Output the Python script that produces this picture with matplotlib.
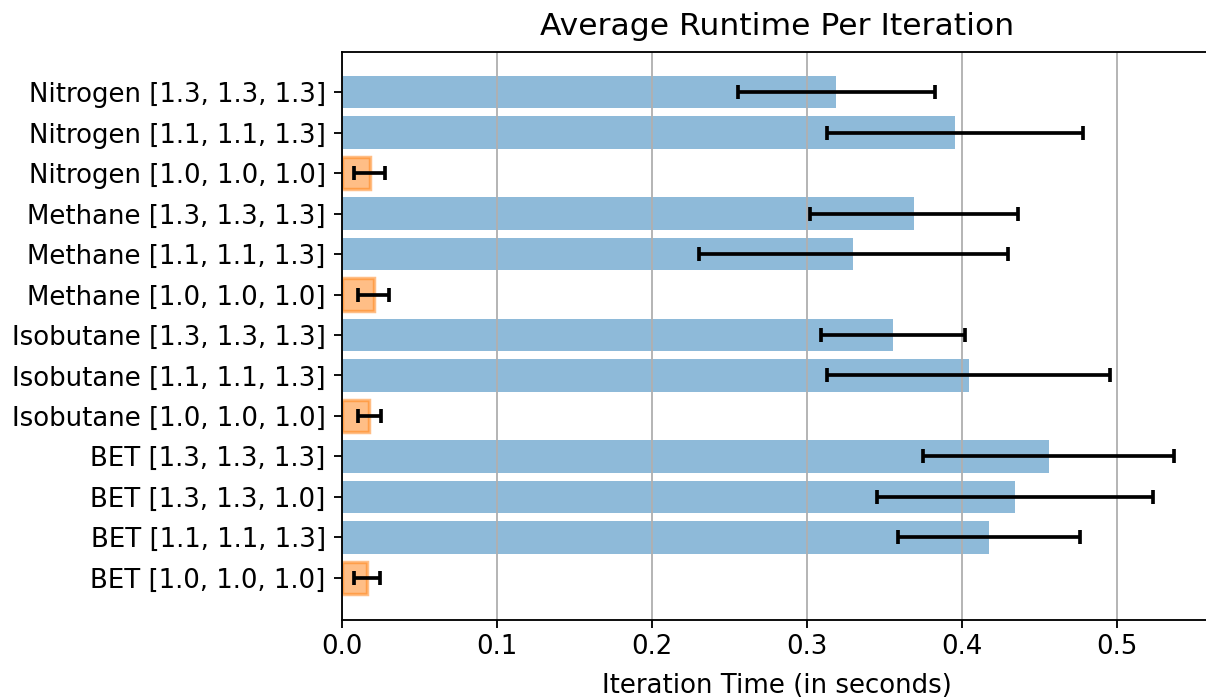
import numpy as np
import matplotlib; matplotlib.use('Agg')
import matplotlib.pyplot as plt

# bottom-to-top order, as drawn by barh
labels=['BET [1.0, 1.0, 1.0]','BET [1.1, 1.1, 1.3]','BET [1.3, 1.3, 1.0]','BET [1.3, 1.3, 1.3]',
        'Isobutane [1.0, 1.0, 1.0]','Isobutane [1.1, 1.1, 1.3]','Isobutane [1.3, 1.3, 1.3]',
        'Methane [1.0, 1.0, 1.0]','Methane [1.1, 1.1, 1.3]','Methane [1.3, 1.3, 1.3]',
        'Nitrogen [1.0, 1.0, 1.0]','Nitrogen [1.1, 1.1, 1.3]','Nitrogen [1.3, 1.3, 1.3]']
means=[0.016,0.4175,0.434,0.456,0.0175,0.4045,0.3555,0.0205,0.330,0.369,0.018,0.3955,0.319]
stds=[0.0084,0.0587,0.089,0.081,0.0074,0.0913,0.0465,0.010,0.0997,0.067,0.010,0.0826,0.0635]
baseline=[True,False,False,False,True,False,False,True,False,False,True,False,False]

DPI=166
plt.rcParams['font.size']=11.3
fig=plt.figure(figsize=(1206/DPI,700/DPI),dpi=DPI)
ax=fig.add_axes([342/1206,80/700,(1212-342)/1206,568/700])
y=np.arange(len(labels))
cols=['tab:orange' if b else 'tab:blue' for b in baseline]
for yi,m,s,c,b in zip(y,means,stds,cols,baseline):
    ax.barh(yi,m,xerr=s,color=c,alpha=0.5,height=0.8,
            edgecolor=c if b else 'none',linewidth=1.5 if b else 0,
            error_kw=dict(ecolor='black',lw=1.6,capsize=3,capthick=1.6,alpha=1))
ax.set_yticks(y); ax.set_yticklabels(labels,fontsize=11.3)
ax.tick_params(axis='x',labelsize=11.3,pad=2.5)
ax.set_ylim(-1.04,12.99); ax.set_xlim(0,0.5613)
ax.set_xticks([0,0.1,0.2,0.3,0.4,0.5])
ax.grid(axis='x')
ax.set_xlabel('Iteration Time (in seconds)',fontsize=11.3,labelpad=5.5)
ax.set_title('Average Runtime Per Iteration',fontsize=13.6,pad=7.5)
fig.savefig('out.png',dpi=DPI)
